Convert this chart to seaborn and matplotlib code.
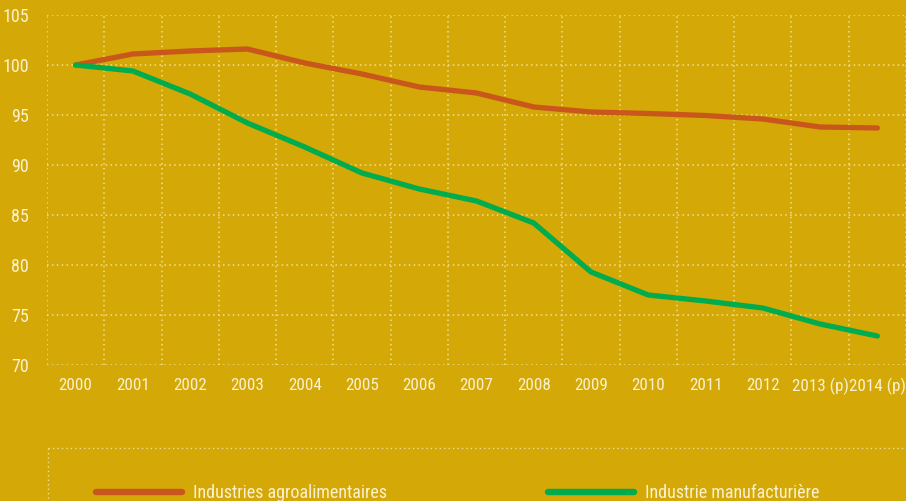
import matplotlib
matplotlib.use("Agg")
import matplotlib.pyplot as plt
from matplotlib import font_manager
from matplotlib.lines import Line2D
import seaborn as sns
import pandas as pd

years = ["2000", "2001", "2002", "2003", "2004", "2005", "2006", "2007",
         "2008", "2009", "2010", "2011", "2012", "2013 (p)", "2014 (p)"]
agro = [100.0, 101.1, 101.4, 101.6, 100.2, 99.1, 97.8, 97.2,
        95.8, 95.3, 95.15, 94.95, 94.6, 93.8, 93.7]
manuf = [100.0, 99.4, 97.1, 94.2, 91.8, 89.2, 87.6, 86.4,
         84.2, 79.3, 77.0, 76.4, 75.7, 74.1, 72.9]
series_names = ["Industries agroalimentaires", "Industrie manufacturière"]
yticks = [70, 75, 80, 85, 90, 95, 100, 105]

BG = "#D3A807"
ORANGE = "#C9561A"
GREEN = "#00AC4E"
TXT = "#FBF1CF"
GRID = "#F2DF8E"
FS = 13
TFS = 12.3

available = {f.name for f in font_manager.fontManager.ttflist}
fam = None
stretch = "normal"
for cand in ["Roboto Condensed", "Liberation Sans Narrow", "Open Sans Condensed"]:
    if cand in available:
        fam = cand
        break
if fam is None:
    fam = "DejaVu Sans"
    stretch = "condensed"

sns.set_theme(style="white")
plt.rcParams["font.family"] = [fam, "DejaVu Sans"]
plt.rcParams["font.stretch"] = stretch

df = pd.DataFrame({
    "year": years * 2,
    "value": agro + manuf,
    "serie": [series_names[0]] * len(years) + [series_names[1]] * len(years),
})

fig = plt.figure(figsize=(9.06, 5.01), dpi=100, facecolor=BG)
W, H = 906, 501
ax = fig.add_axes([47 / W, (H - 365) / H, (906 - 47) / W, 350 / H])
ax.set_facecolor(BG)

sns.lineplot(data=df, x="year", y="value", hue="serie", sort=False,
             palette=[ORANGE, GREEN], linewidth=3.8, ax=ax,
             solid_capstyle="round", legend=True)

ax.set_xlim(-0.5, len(years) - 0.5)
ax.set_ylim(70, 105)
ax.set_yticks(yticks)
ax.set_yticklabels([str(v) for v in yticks])
ax.set_xticks(range(len(years)))
ax.set_xticklabels(years)
ax.set_xticks([i - 0.5 for i in range(len(years) + 1)], minor=True)
ax.set_xlabel("")
ax.set_ylabel("")

for s in ax.spines.values():
    s.set_visible(False)

ax.grid(False)
ax.grid(axis="y", which="major", color=GRID, linestyle=(0, (1, 2.2)), linewidth=1.1)
ax.grid(axis="x", which="minor", color=GRID, linestyle=(0, (1, 2.2)), linewidth=1.1)
ax.set_axisbelow(True)

ax.tick_params(axis="both", which="both", length=0, colors=TXT, labelsize=TFS)
ax.tick_params(axis="y", labelsize=FS, pad=13)
ax.tick_params(axis="x", pad=9)
for lab in ax.get_xticklabels() + ax.get_yticklabels():
    lab.set_color(TXT)

fs_px = FS * 100 / 72


def make_legend(colspace):
    lg = ax.legend(loc="lower left", bbox_to_anchor=(0, 0),
                   bbox_transform=fig.transFigure, ncol=2, frameon=False,
                   fontsize=FS, handlelength=86 / fs_px, handletextpad=0.62,
                   columnspacing=colspace)
    for t in lg.get_texts():
        t.set_color(TXT)
    for h in lg.legend_handles:
        h.set_linewidth(4.6)
        h.set_solid_capstyle("round")
    return lg


cs = 9.0
leg = make_legend(cs)
fig.canvas.draw()
h0 = leg.legend_handles[0].get_window_extent()
h1 = leg.legend_handles[1].get_window_extent()
gap_now = h1.x0 - h0.x0
cs = cs + (548 - 96 - gap_now) / fs_px
leg = make_legend(cs)
fig.canvas.draw()
hb = leg.legend_handles[0].get_window_extent()
dx = 96 - hb.x0
dy = (H - 492) - (hb.y0 + hb.y1) / 2
leg.set_bbox_to_anchor((dx / W, dy / H), transform=fig.transFigure)

# dotted frame of legend area
fig.add_artist(Line2D([48 / W, 1.0], [(H - 448) / H] * 2, transform=fig.transFigure,
                      color=GRID, linestyle=(0, (1, 2.2)), linewidth=1.0))
fig.add_artist(Line2D([48 / W] * 2, [(H - 448) / H, 0], transform=fig.transFigure,
                      color=GRID, linestyle=(0, (1, 2.2)), linewidth=1.0))

fig.savefig("out.png", dpi=100, facecolor=BG)
